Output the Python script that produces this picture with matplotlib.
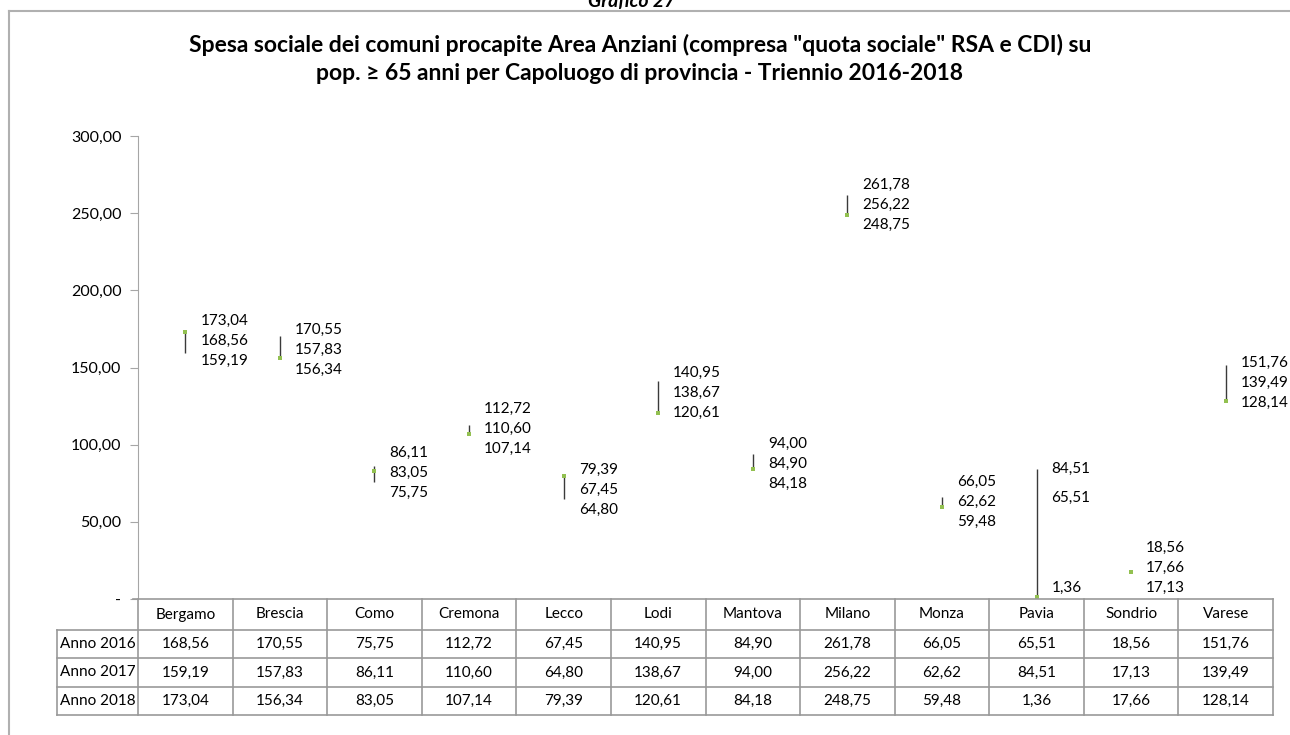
import matplotlib

matplotlib.use("Agg")  # headless
import matplotlib.pyplot as plt
import numpy as np
from matplotlib.ticker import FixedLocator, FuncFormatter

plt.rcParams["font.family"] = ["Lato", "DejaVu Sans"]

# --- data ---
cities = ["Bergamo", "Brescia", "Como", "Cremona", "Lecco", "Lodi",
          "Mantova", "Milano", "Monza", "Pavia", "Sondrio", "Varese"]
anno_2016 = [168.56, 170.55, 75.75, 112.72, 67.45, 140.95,
             84.90, 261.78, 66.05, 65.51, 18.56, 151.76]
anno_2017 = [159.19, 157.83, 86.11, 110.60, 64.80, 138.67,
             94.00, 256.22, 62.62, 84.51, 17.13, 139.49]
anno_2018 = [173.04, 156.34, 83.05, 107.14, 79.39, 120.61,
             84.18, 248.75, 59.48, 1.36, 17.66, 128.14]
row_labels = ["Anno 2016", "Anno 2017", "Anno 2018"]
y_ticks = [0, 50, 100, 150, 200, 250, 300]

title = ('Spesa sociale dei comuni procapite Area Anziani (compresa "quota sociale" RSA e CDI) su\n'
         'pop. \u2265 65 anni per Capoluogo di provincia - Triennio 2016-2018')

GRID = "#999999"
FS = 11


def fmt(v):
    return f"{v:.2f}".replace(".", ",")


def spread(vals, gap, floor):
    """Push overlapping label positions apart (1D), keep above floor."""
    order = np.argsort(vals)[::-1]
    pos = [vals[k] for k in order]
    for _ in range(100):
        for i in range(1, len(pos)):
            d = pos[i - 1] - pos[i]
            if d < gap:
                pos[i - 1] += (gap - d) / 2
                pos[i] -= (gap - d) / 2
    if pos[-1] < floor:
        pos[-1] = floor
        for i in range(len(pos) - 2, -1, -1):
            pos[i] = max(pos[i], pos[i + 1] + gap)
    return dict(zip(order, pos))


W, H = 1290, 735
fig = plt.figure(figsize=(W / 100, H / 100), dpi=100)

# plot area, pixel box
L, T, R, B = 138, 136, 1273, 599
ax = fig.add_axes([L / W, 1 - B / H, (R - L) / W, (B - T) / H])
ax.set_xlim(-0.5, len(cities) - 0.5)
ax.set_ylim(0, 300)

x = np.arange(len(cities))
series = np.array([anno_2016, anno_2017, anno_2018])
ax.vlines(x, series.min(axis=0), series.max(axis=0), color="#3A3A3A", lw=1.0)
ax.plot(x, anno_2018, ls="none", marker="s", ms=2.4, color="#92C050", mew=0, zorder=3)

# data labels, right of each high-low line
units_per_px = 300 / (B - T)
for i in range(len(cities)):
    vals = list(series[:, i])
    pos = spread(vals, 20 * units_per_px, 7)
    for k, v in enumerate(vals):
        ax.annotate(fmt(v), (i, pos[k]), xytext=(15, 0), textcoords="offset pixels",
                    ha="left", va="center", fontsize=FS, color="#000000",
                    annotation_clip=False)

ax.yaxis.set_major_locator(FixedLocator(y_ticks))
ax.yaxis.set_major_formatter(FuncFormatter(lambda v, p: "-" if v == 0 else fmt(v)))
ax.tick_params(axis="y", length=6, color="#A6A6A6", labelsize=11.5, pad=6)
ax.set_xticks([])
for s in ("top", "right", "bottom"):
    ax.spines[s].set_visible(False)
ax.spines["left"].set_color("#A6A6A6")

# --- overlay in pixel coords: table, frame, titles ---
ov = fig.add_axes([0, 0, 1, 1])
ov.set_xlim(0, W)
ov.set_ylim(H, 0)
ov.axis("off")

edges = np.linspace(L, R, len(cities) + 1)
row_y = [599, 630, 658, 687, 715]
left_col = 57

ov.plot([133, R], [row_y[0]] * 2, color=GRID, lw=1.2)
for yy in row_y[1:]:
    ov.plot([left_col, R], [yy, yy], color=GRID, lw=1.2)
for xx in edges:
    ov.plot([xx, xx], [row_y[0], row_y[-1]], color=GRID, lw=1.2)
ov.plot([left_col, left_col], [row_y[1], row_y[-1]], color=GRID, lw=1.2)

centers = (edges[:-1] + edges[1:]) / 2
for c, name in zip(centers, cities):
    ov.text(c, (row_y[0] + row_y[1]) / 2, name, ha="center", va="center", fontsize=FS)
for r, (lab, vals) in enumerate(zip(row_labels, series)):
    yc = (row_y[r + 1] + row_y[r + 2]) / 2
    ov.text((left_col + L) / 2, yc, lab, ha="center", va="center", fontsize=FS)
    for c, v in zip(centers, vals):
        ov.text(c, yc, fmt(v), ha="center", va="center", fontsize=FS)

# chart frame (cropped)
ov.plot([9, W], [11, 11], color="#B0B0B0", lw=1.5)
ov.plot([9, 9], [11, H], color="#B0B0B0", lw=1.5)

ov.text(632, 1, "Grafico 27", ha="center", va="center", fontsize=14,
        fontweight="bold", style="italic")
ov.text(640, 59, title, ha="center", va="center", fontsize=16.5,
        fontweight="bold", linespacing=1.4)

fig.savefig("out.png", dpi=100)
